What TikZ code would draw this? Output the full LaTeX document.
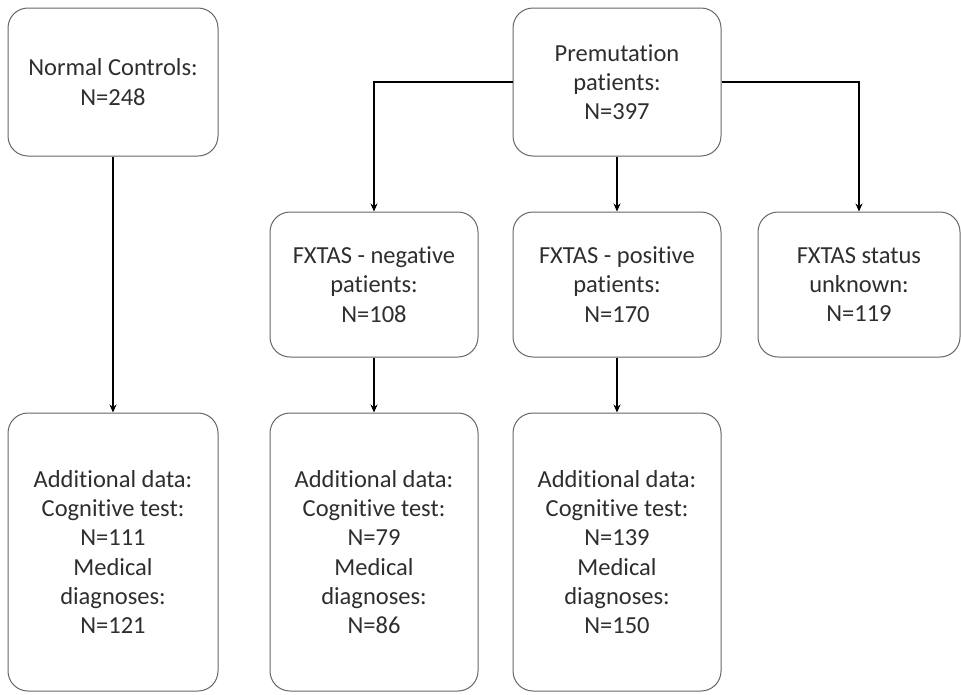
\documentclass[tikz,border=0pt]{standalone}
\usepackage{fontspec}
\setmainfont{Carlito}[Ligatures={NoCommon}]
\usetikzlibrary{arrows.meta}
\begin{document}
\begin{tikzpicture}[x=1pt,y=-1pt,
  box/.style={draw=black!60, line width=1pt, rounded corners=20pt, align=center,
    font=\fontsize{24.5}{29.3}\selectfont, text=black!82, inner sep=0pt},
  arr/.style={draw=black, line width=1.1pt, -{Stealth[length=8pt,width=7pt]}}]
\useasboundingbox (0,0) rectangle (961,694);
% top row
\node[box, minimum width=210pt, minimum height=148pt] (nc) at (113,82) {Normal Controls:\\N=248};
\node[box, minimum width=208pt, minimum height=148pt] (pm) at (617,82) {Premutation\\patients:\\N=397};
% middle row
\node[box, minimum width=208pt, minimum height=145pt] (neg) at (374,284.5) {FXTAS - negative\\patients:\\N=108};
\node[box, minimum width=208pt, minimum height=145pt] (pos) at (617,284.5) {FXTAS - positive\\patients:\\N=170};
\node[box, minimum width=202pt, minimum height=145pt] (unk) at (859,284.5) {FXTAS status\\unknown:\\N=119};
% bottom row
\node[box, minimum width=210pt, minimum height=278pt] (ncd) at (113,552) {Additional data:\\Cognitive test:\\N=111\\Medical\\diagnoses:\\N=121};
\node[box, minimum width=208pt, minimum height=278pt] (negd) at (374,552) {Additional data:\\Cognitive test:\\N=79\\Medical\\diagnoses:\\N=86};
\node[box, minimum width=208pt, minimum height=278pt] (posd) at (617,552) {Additional data:\\Cognitive test:\\N=139\\Medical\\diagnoses:\\N=150};
% connectors
\draw[arr] (nc.south) -- (ncd.north);
\draw[arr] (pm.west) -| (neg.north);
\draw[arr] (pm.east) -| (unk.north);
\draw[arr] (pm.south) -- (pos.north);
\draw[arr] (neg.south) -- (negd.north);
\draw[arr] (pos.south) -- (posd.north);
\end{tikzpicture}
\end{document}
